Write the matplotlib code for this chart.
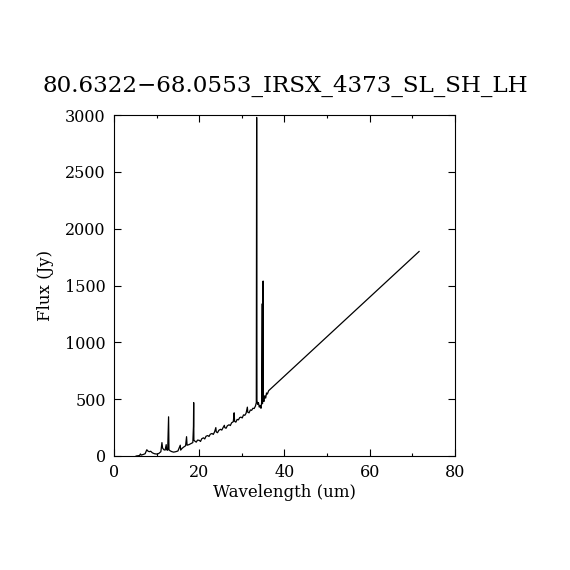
import matplotlib
matplotlib.use("Agg")
import matplotlib.pyplot as plt
from matplotlib.ticker import MultipleLocator

title = "80.6322\u221268.0553_IRSX_4373_SL_SH_LH"
xlabel = "Wavelength (um)"
ylabel = "Flux (Jy)"

wavelength = [
    5.2, 5.6, 6.0, 6.2, 6.4, 6.9, 7.3, 7.7, 8.0, 8.3, 8.6, 9.0, 9.5, 10.0,
    10.5, 11.0, 11.25, 11.4, 11.7, 12.0, 12.25, 12.35, 12.6, 12.81, 12.9,
    13.2, 13.6, 14.0, 14.5, 15.0, 15.55, 15.65, 16.0, 16.4, 16.8, 17.03,
    17.15, 17.6, 18.0, 18.5, 18.65, 18.7, 18.75, 19.0, 19.3, 19.6, 20.0,
    20.3, 20.6, 21.0, 21.3, 21.6, 22.0, 22.3, 22.6, 23.0, 23.3, 23.6, 23.9,
    24.0, 24.3, 24.6, 25.0, 25.3, 25.6, 25.9, 26.0, 26.3, 26.6, 27.0, 27.3,
    27.6, 28.0, 28.2, 28.3, 28.6, 28.9, 29.2, 29.5, 29.8, 30.1, 30.4, 30.7,
    31.0, 31.3, 31.4, 31.7, 32.0, 32.3, 32.6, 32.9, 33.2, 33.4, 33.48,
    33.55, 33.7, 33.9, 34.1, 34.3, 34.5, 34.65, 34.8, 34.85, 35.0, 35.05,
    35.2, 35.4, 35.6, 35.8, 36.0, 36.3, 71.6,
]
flux = [
    0, 2, 4, 18, 8, 14, 20, 55, 42, 38, 42, 28, 20, 17,
    22, 38, 118, 70, 55, 52, 100, 55, 50, 345, 55,
    45, 38, 34, 38, 44, 95, 52, 68, 80, 90, 170,
    95, 100, 108, 118, 260, 470, 140, 130, 122, 140, 138,
    128, 152, 160, 150, 174, 180, 172, 192, 198, 190, 212, 250,
    212, 205, 226, 235, 228, 250, 270, 250, 244, 266, 275, 268,
    292, 302, 380, 305, 298, 322, 318, 338, 342, 335, 362, 358,
    376, 430, 385, 380, 405, 402, 420, 418, 440, 470, 2980,
    490, 455, 470, 430, 445, 420, 470, 1340, 460, 1540, 490,
    480, 530, 510, 555, 545, 575, 1800,
]

fig = plt.figure(figsize=(5.7, 5.7), dpi=100)
ax = fig.add_axes([0.2, 0.2, 0.598, 0.598])
ax.plot(wavelength, flux, color="black", linewidth=0.9)

ax.set_xlim(0, 80)
ax.set_ylim(0, 3000)
ax.xaxis.set_major_locator(MultipleLocator(20))
ax.xaxis.set_minor_locator(MultipleLocator(10))
ax.yaxis.set_major_locator(MultipleLocator(500))

fam = "DejaVu Serif"
ax.tick_params(which="both", direction="in", top=True, right=True, width=0.8)
ax.tick_params(which="major", length=5, labelsize=11.5, pad=6)
ax.tick_params(which="minor", length=2.5)
for lab in ax.get_xticklabels() + ax.get_yticklabels():
    lab.set_family(fam)
for s in ax.spines.values():
    s.set_linewidth(0.8)

ax.set_xlabel(xlabel, family=fam, fontsize=12, labelpad=2)
ax.set_ylabel(ylabel, family=fam, fontsize=12, labelpad=8)
fig.text(0.5, 0.85, title, ha="center", va="center", family=fam, fontsize=16.6)

fig.savefig("out.png", dpi=100)
